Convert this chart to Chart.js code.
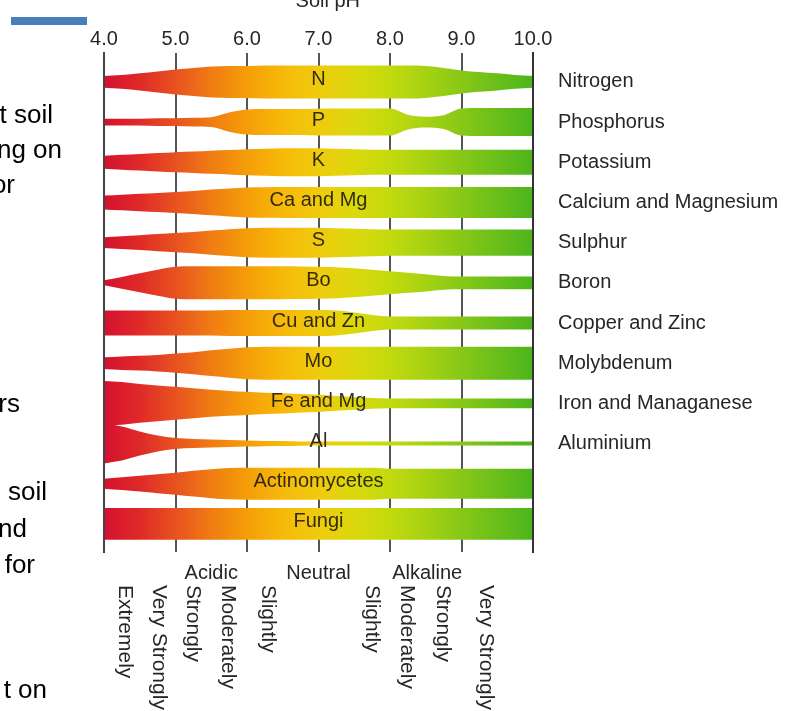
<!DOCTYPE html>
<html>
<head>
<meta charset="utf-8">
<title>Soil pH and nutrient availability</title>
<style>
  html, body { margin: 0; padding: 0; background: #fff; overflow: hidden; }
  #page { position: relative; width: 797px; height: 711px; }
  #chart { position: absolute; left: 0; top: 0; }
  .slide-text {
    position: absolute;
    font: 26px 'Liberation Sans', Arial, sans-serif;
    line-height: 26px;
    color: #000;
    white-space: nowrap;
  }
  .slide-bar { position: absolute; left: 11px; top: 17px; width: 76px; height: 8px; background: #4a7ebb; }
</style>
</head>
<body>
<div id="page">
  <canvas id="chart" width="797" height="711"></canvas>
  <div class="slide-bar"></div>
  <div class="slide-text" style="right:744px;top:101px">t soil</div>
  <div class="slide-text" style="right:735px;top:136px">ng on</div>
  <div class="slide-text" style="right:782px;top:171px">or</div>
  <div class="slide-text" style="right:777px;top:390px">rs</div>
  <div class="slide-text" style="right:750px;top:478px">soil</div>
  <div class="slide-text" style="right:770px;top:515px">nd</div>
  <div class="slide-text" style="right:762px;top:551px">for</div>
  <div class="slide-text" style="right:750px;top:676px">t on</div>
</div>
<script src="https://cdn.jsdelivr.net/npm/chart.js@4.4.1/dist/chart.umd.min.js"></script>
<script>
// pH steps the band widths are read at
const phSteps = [4, 4.25, 4.5, 4.75, 5, 5.25, 5.5, 5.75, 6, 6.25, 6.5, 6.75, 7,
                 7.25, 7.5, 7.75, 8, 8.25, 8.5, 8.75, 9, 9.25, 9.5, 9.75, 10];
const phTicks = [4, 5, 6, 7, 8, 9, 10];
const axisTitle = 'Soil pH';

// Labels inside the bands and on the right
const bandNames = ['N', 'P', 'K', 'Ca and Mg', 'S', 'Bo', 'Cu and Zn', 'Mo',
                   'Fe and Mg', 'Al', 'Actinomycetes', 'Fungi'];
const nutrientNames = ['Nitrogen', 'Phosphorus', 'Potassium', 'Calcium and Magnesium',
                       'Sulphur', 'Boron', 'Copper and Zinc', 'Molybdenum',
                       'Iron and Managanese', 'Aluminium'];

// Relative availability (band thickness, 1 = full) at each pH step
const nitrogen = [0.36, 0.42, 0.52, 0.64, 0.76, 0.85, 0.94, 0.97, 0.97, 1, 1, 1, 1,
                  1, 1, 1, 1, 1, 0.97, 0.85, 0.70, 0.60, 0.52, 0.42, 0.36];
const phosphorus = [0.21, 0.21, 0.21, 0.23, 0.24, 0.26, 0.30, 0.58, 0.76, 0.79, 0.79, 0.79, 0.81,
                    0.82, 0.82, 0.82, 0.82, 0.45, 0.33, 0.42, 0.82, 0.85, 0.85, 0.85, 0.85];
const potassium = [0.39, 0.45, 0.50, 0.56, 0.61, 0.65, 0.70, 0.74, 0.79, 0.82, 0.85, 0.85, 0.85,
                   0.82, 0.79, 0.76, 0.76, 0.76, 0.76, 0.76, 0.76, 0.76, 0.76, 0.76, 0.76];
const calciumMagnesium = [0.42, 0.47, 0.53, 0.58, 0.64, 0.70, 0.78, 0.85, 0.91, 0.93, 0.94, 0.94, 0.94,
                          0.94, 0.94, 0.94, 0.94, 0.94, 0.94, 0.94, 0.94, 0.94, 0.94, 0.94, 0.94];
const sulphur = [0.33, 0.39, 0.45, 0.52, 0.58, 0.65, 0.73, 0.81, 0.88, 0.91, 0.91, 0.91, 0.91,
                 0.88, 0.85, 0.82, 0.79, 0.79, 0.79, 0.79, 0.79, 0.79, 0.79, 0.79, 0.79];
const boron = [0.15, 0.36, 0.58, 0.79, 0.97, 1, 1, 1, 1, 1, 1, 0.99, 0.97,
               0.94, 0.88, 0.79, 0.70, 0.61, 0.52, 0.42, 0.39, 0.39, 0.39, 0.39, 0.39];
const copperZinc = [0.76, 0.76, 0.76, 0.76, 0.76, 0.76, 0.76, 0.79, 0.79, 0.79, 0.79, 0.79, 0.79,
                    0.76, 0.64, 0.48, 0.39, 0.39, 0.39, 0.39, 0.39, 0.39, 0.39, 0.39, 0.39];
const molybdenum = [0.36, 0.41, 0.45, 0.50, 0.58, 0.67, 0.78, 0.88, 0.97, 1, 1, 1, 1,
                    1, 1, 1, 1, 1, 1, 1, 1, 1, 1, 1, 1];
const ironManganese = [1.36, 1.30, 1.18, 1.09, 1.00, 0.91, 0.82, 0.75, 0.70, 0.65, 0.61, 0.56, 0.52,
                       0.45, 0.39, 0.33, 0.30, 0.30, 0.30, 0.30, 0.30, 0.30, 0.30, 0.30, 0.30];
const aluminium = [1.21, 1.03, 0.73, 0.48, 0.33, 0.27, 0.24, 0.21, 0.18, 0.16, 0.15, 0.13, 0.12,
                   0.12, 0.12, 0.12, 0.12, 0.12, 0.12, 0.12, 0.12, 0.12, 0.12, 0.12, 0.12];
const actinomycetes = [0.30, 0.39, 0.48, 0.58, 0.67, 0.78, 0.88, 0.95, 0.97, 0.97, 0.97, 0.97, 0.97,
                       0.97, 0.97, 0.97, 0.91, 0.91, 0.91, 0.91, 0.91, 0.91, 0.91, 0.91, 0.91];
const fungi = [0.97, 0.97, 0.97, 0.97, 0.97, 0.97, 0.97, 0.97, 0.97, 0.97, 0.97, 0.97, 0.97,
               0.97, 0.97, 0.97, 0.97, 0.97, 0.97, 0.97, 0.97, 0.97, 0.97, 0.97, 0.97];

const availability = [nitrogen, phosphorus, potassium, calciumMagnesium, sulphur, boron,
                      copperZinc, molybdenum, ironManganese, aluminium, actinomycetes, fungi];

// Reaction classes under the chart
const reactionGroups = ['Acidic', 'Neutral', 'Alkaline'];
const reactionGroupPh = [5.5, 7.0, 8.52];
const reactionGrades = ['Extremely', 'Very Strongly', 'Strongly', 'Moderately', 'Slightly',
                        'Slightly', 'Moderately', 'Strongly', 'Very Strongly'];
const reactionGradePh = [4.29, 4.76, 5.24, 5.73, 6.29, 7.75, 8.24, 8.74, 9.34];

const fontFamily = "'Liberation Sans', Arial, sans-serif";
Chart.defaults.font.family = fontFamily;
Chart.defaults.font.size = 20;
Chart.defaults.color = '#262626';

// red -> orange -> yellow -> green along the pH axis
const gradientStops = [
  [0, '#d51030'], [0.083, '#df2a28'], [0.167, '#e85220'], [0.25, '#f07c12'],
  [0.333, '#f59e08'], [0.417, '#f7b90a'], [0.5, '#efcb0e'], [0.583, '#dcd80c'],
  [0.667, '#c2da0e'], [0.75, '#a6d212'], [0.833, '#88c817'], [0.917, '#6abe1a'], [1, '#4cb51c']
];
let gradientCache = null;
function bandGradient(context) {
  const chart = context.chart;
  const area = chart.chartArea;
  if (!area) return '#f5a000';
  if (!gradientCache) {
    gradientCache = chart.ctx.createLinearGradient(area.left, 0, area.right, 0);
    gradientStops.forEach(([t, c]) => gradientCache.addColorStop(t, c));
  }
  return gradientCache;
}

// half band thickness in row units when availability is 1
const bandHalf = 0.41;

const datasets = [];
availability.forEach((values, row) => {
  const common = {
    borderWidth: 0,
    borderColor: 'rgba(0,0,0,0)',
    pointRadius: 0,
    pointHoverRadius: 0,
    cubicInterpolationMode: 'monotone',
    backgroundColor: bandGradient
  };
  datasets.push(Object.assign({
    label: bandNames[row] + ' top',
    data: values.map((v, i) => ({ x: phSteps[i], y: row - v * bandHalf })),
    fill: false
  }, common));
  datasets.push(Object.assign({
    label: bandNames[row],
    data: values.map((v, i) => ({ x: phSteps[i], y: row + v * bandHalf })),
    fill: '-1'
  }, common));
});

const textPlugin = {
  id: 'bandText',
  afterDatasetsDraw(chart) {
    const { ctx, scales: { x, y } } = chart;
    ctx.save();
    ctx.font = '20px ' + fontFamily;
    ctx.fillStyle = 'rgba(30, 24, 14, 0.9)';
    ctx.textAlign = 'center';
    ctx.textBaseline = 'middle';
    bandNames.forEach((name, row) => {
      ctx.fillText(name, x.getPixelForValue(7), y.getPixelForValue(row) - 2);
    });
    ctx.restore();
  },
  afterDraw(chart) {
    const { ctx, chartArea, scales: { x } } = chart;
    ctx.save();
    ctx.fillStyle = '#262626';
    ctx.font = '20px ' + fontFamily;
    ctx.textAlign = 'center';
    ctx.textBaseline = 'alphabetic';
    ctx.fillText(axisTitle, x.getPixelForValue(7.13), 7);

    ctx.textBaseline = 'middle';
    reactionGroups.forEach((t, i) => {
      ctx.fillText(t, x.getPixelForValue(reactionGroupPh[i]), chartArea.bottom + 21);
    });

    ctx.font = '21px ' + fontFamily;
    ctx.textAlign = 'left';
    reactionGrades.forEach((t, i) => {
      ctx.save();
      ctx.translate(x.getPixelForValue(reactionGradePh[i]), chartArea.bottom + 33);
      ctx.rotate(Math.PI / 2);
      ctx.fillText(t, 0, 0);
      ctx.restore();
    });
    ctx.restore();
  }
};

new Chart(document.getElementById('chart').getContext('2d'), {
  type: 'line',
  data: { datasets: datasets },
  options: {
    responsive: false,
    animation: false,
    events: [],
    layout: { padding: { top: 0, left: 0, right: 0, bottom: 159 } },
    plugins: { legend: { display: false }, tooltip: { enabled: false } },
    scales: {
      x: {
        type: 'linear',
        position: 'top',
        min: 4,
        max: 10,
        afterFit: s => { s.height = 53; },
        afterBuildTicks: s => { s.ticks = phTicks.map(v => ({ value: v })); },
        ticks: { padding: 2, callback: v => v.toFixed(1) },
        grid: { color: '#555', lineWidth: 2, drawTicks: false },
        border: { display: false }
      },
      y: {
        type: 'linear',
        position: 'right',
        reverse: true,
        min: -0.72,
        max: 11.7,
        afterFit: s => { s.width = 264; },
        afterBuildTicks: s => { s.ticks = nutrientNames.map((n, i) => ({ value: i })); },
        ticks: { padding: 25, autoSkip: false, callback: v => nutrientNames[v] || '' },
        grid: { display: false, drawTicks: false },
        border: { display: true, color: '#333', width: 2, z: 1 }
      },
      yl: {
        type: 'linear',
        position: 'left',
        reverse: true,
        min: -0.72,
        max: 11.7,
        afterFit: s => { s.width = 104; },
        ticks: { display: false },
        grid: { display: false, drawTicks: false },
        border: { display: true, color: '#444', width: 2, z: 1 }
      }
    }
  },
  plugins: [textPlugin]
});
</script>
</body>
</html>
